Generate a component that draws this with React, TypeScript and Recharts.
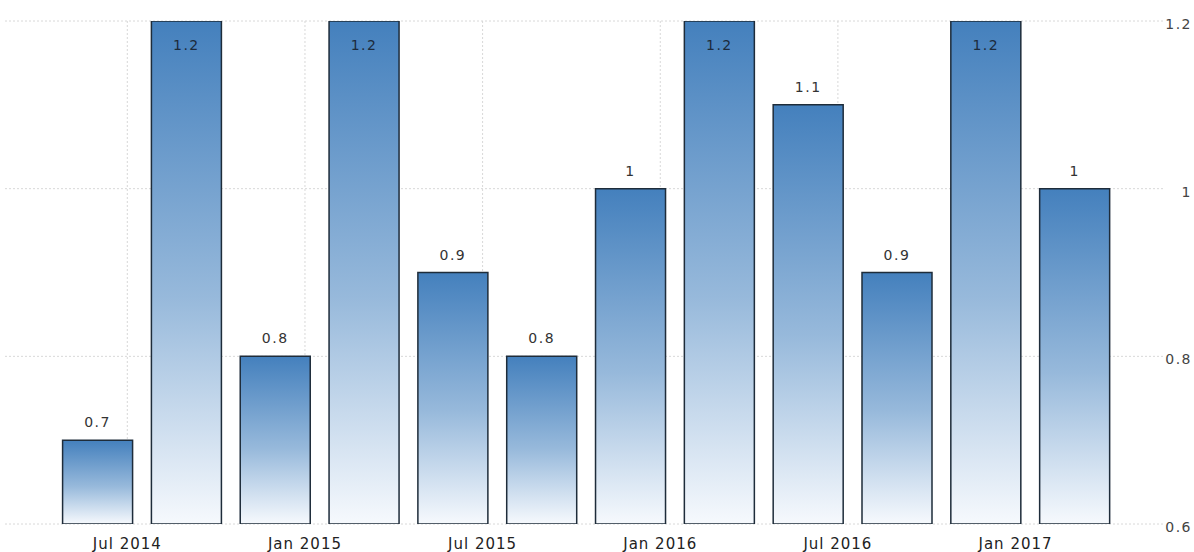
import { BarChart, Bar, XAxis, YAxis, CartesianGrid, LabelList } from 'recharts'

// quarterly values, Q2 2014 .. Q1 2017
const quarters = [0, 1, 2, 3, 4, 5, 6, 7, 8, 9, 10, 11]
const values = [0.7, 1.2, 0.8, 1.2, 0.9, 0.8, 1, 1.2, 1.1, 0.9, 1.2, 1]

const tickPos = [0.33, 2.33, 4.33, 6.33, 8.33, 10.33]
const tickLabels = ['Jul 2014', 'Jan 2015', 'Jul 2015', 'Jan 2016', 'Jul 2016', 'Jan 2017']
const yTicks = [0.6, 0.8, 1, 1.2]

const X_DOMAIN: [number, number] = [-1.047, 11.99]

const data = quarters.map((q, i) => ({ q, v: values[i] }))

const FONT = '"DejaVu Sans", Verdana, sans-serif'

function BarLabel(props: any) {
  const { x, y, width, value } = props
  const inside = y < 40
  return (
    <text
      x={x + width / 2}
      y={inside ? y + 24 : y - 18}
      textAnchor="middle"
      dominantBaseline="central"
      fontSize={14}
      letterSpacing={1.5}
      fontFamily={FONT}
      fill={inside ? '#1c2b3c' : '#333'}
    >
      {value}
    </text>
  )
}

function YTick(props: any) {
  const { x, y, payload } = props
  return (
    <text x={x + 21} y={y + 3} textAnchor="end" dominantBaseline="central"
      fontSize={14} letterSpacing={1.5} fontFamily={FONT} fill="#444">
      {payload.value}
    </text>
  )
}

function XTick(props: any) {
  const { x, y, payload } = props
  const idx = tickPos.indexOf(payload.value)
  return (
    <text x={x} y={y + 12} textAnchor="middle" dominantBaseline="central"
      fontSize={15} letterSpacing={1} fontFamily={FONT} fill="#222">
      {tickLabels[idx]}
    </text>
  )
}

// vertical grid only at the date ticks
const verticalGen = (props: any) => {
  const s = props?.xAxis?.scale
  if (typeof s === 'function') return tickPos.map((t) => s(t))
  const off = props?.offset
  if (!off) return []
  const [d0, d1] = X_DOMAIN
  return tickPos.map((t) => off.left + ((t - d0) / (d1 - d0)) * off.width)
}

export default function App() {
  return (
    <div style={{ position: 'absolute', left: 0, top: 0, background: '#fff' }}>
      <BarChart
        width={1194}
        height={552}
        data={data}
        margin={{ top: 21, right: 0, left: 5, bottom: 0 }}
      >
        <defs>
          <linearGradient id="barFill" x1="0" y1="0" x2="0" y2="1">
            <stop offset="0%" stopColor="#4480bd" />
            <stop offset="55%" stopColor="#97b9db" />
            <stop offset="100%" stopColor="#f6f9fd" />
          </linearGradient>
        </defs>
        <CartesianGrid
          stroke="#d8d8d8"
          strokeDasharray="2 2"
          verticalCoordinatesGenerator={verticalGen}
        />
        <XAxis
          type="number"
          dataKey="q"
          domain={X_DOMAIN}
          allowDataOverflow
          ticks={tickPos}
          tick={<XTick />}
          height={28}
          axisLine={false}
          tickLine={false}
          interval={0}
        />
        <YAxis
          orientation="right"
          domain={[0.6, 1.2]}
          ticks={yTicks}
          allowDataOverflow
          width={31}
          tick={<YTick />}
          axisLine={false}
          tickLine={false}
        />
        <Bar
          dataKey="v"
          barSize={70}
          fill="url(#barFill)"
          stroke="#1e2c3a"
          strokeWidth={1.5}
          isAnimationActive={false}
        >
          <LabelList dataKey="v" content={<BarLabel />} />
        </Bar>
      </BarChart>
    </div>
  )
}
